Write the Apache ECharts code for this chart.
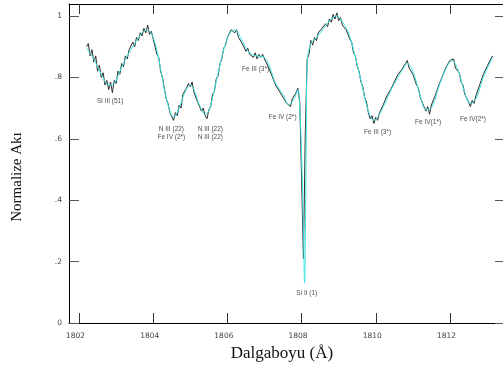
<!DOCTYPE html>
<html><head><meta charset="utf-8">
<script src="https://cdn.jsdelivr.net/npm/echarts@6/dist/echarts.min.js"></script>
<style>html,body{margin:0;padding:0;background:#fff}#c{width:503px;height:367px}</style>
</head><body><div id="c"></div>
<script>
// Observed spectrum, sampled every 0.05 Å from 1802.20 Å
const obsStart = 1802.20;
const obsStep = 0.05;
const obsFlux = [
  .90,.91,.87,.89,.85,.87,.82,.84,.80,.815,.775,.79,.76,.785,.75,.79,.78,.82,.81,.845,
  .835,.87,.86,.89,.885,.915,.90,.93,.92,.945,.935,.96,.945,.97,.94,.95,.925,.92,.875,.865,
  .82,.80,.765,.73,.715,.685,.69,.66,.685,.675,.71,.70,.745,.74,.765,.78,.77,.785,.75,.755,
  .72,.715,.69,.70,.675,.665,.695,.705,.745,.755,.795,.805,.845,.86,.895,.905,.93,.93,.955,.96,
  .945,.955,.93,.935,.91,.915,.885,.895,.875,.88,.865,.88,.86,.875,.865,.875,.86,.865,.835,.835,
  .805,.80,.775,.78,.755,.76,.735,.74,.715,.72,.705,.73,.725,.75,.765,.72,.47,.21,.62,.86,
  .875,.92,.905,.93,.92,.945,.94,.96,.955,.975,.965,.99,.98,1.005,.99,1.01,.985,.995,.97,.975,
  .955,.955,.925,.915,.88,.87,.835,.82,.785,.77,.735,.72,.685,.665,.675,.65,.67,.66,.685,.69,
  .71,.71,.74,.735,.76,.765,.785,.785,.81,.805,.825,.82,.845,.855,.83,.835,.81,.805,.775,.765,
  .735,.72,.705,.69,.705,.68,.71,.71,.74,.745,.775,.78,.805,.81,.835,.83,.855,.85,.86,.83,
  .835,.815,.785,.775,.745,.74,.72,.705,.725,.715,.74,.745,.775,.78,.81,.805,.835,.835,.86,.87
];
// Model (fit) spectrum
const modelWl = [1802.20,1802.40,1802.60,1802.80,1802.95,1803.10,1803.30,1803.50,1803.70,1803.85,
  1804.00,1804.15,1804.30,1804.45,1804.55,1804.70,1804.85,1805.00,1805.10,1805.25,1805.40,1805.50,
  1805.65,1805.80,1805.95,1806.10,1806.20,1806.35,1806.50,1806.65,1806.80,1807.00,1807.15,1807.30,
  1807.50,1807.65,1807.80,1807.90,1807.95,1808.00,1808.05,1808.08,1808.12,1808.15,1808.25,1808.40,
  1808.60,1808.80,1808.95,1809.10,1809.25,1809.40,1809.60,1809.80,1809.95,1810.10,1810.30,1810.50,
  1810.70,1810.85,1811.00,1811.20,1811.35,1811.50,1811.70,1811.90,1812.05,1812.20,1812.40,1812.55,
  1812.70,1812.90,1813.15];
const modelFlux = [0.895,0.86,0.81,0.775,0.78,0.82,0.87,0.91,0.945,0.955,
  0.93,0.86,0.76,0.69,0.67,0.70,0.75,0.775,0.76,0.71,0.68,0.69,
  0.76,0.84,0.91,0.95,0.955,0.93,0.895,0.875,0.87,0.865,0.83,0.78,
  0.745,0.71,0.73,0.76,0.70,0.55,0.30,0.13,0.50,0.85,0.91,0.93,
  0.96,0.99,1.00,0.98,0.95,0.89,0.79,0.69,0.66,0.68,0.73,0.78,
  0.82,0.845,0.82,0.74,0.695,0.70,0.77,0.83,0.855,0.83,0.75,0.715,
  0.73,0.80,0.865];
const xTicks = [1802,1804,1806,1808,1810,1812];
const yTicks = [0,0.2,0.4,0.6,0.8,1];
const yTickLabels = ['0','.2','.4','.6','.8','1'];
// Line identifications
const lineLabels = ['Si III (51)','N III (22)\nFe IV (2*)','N III (22)\nN III (22)','Fe III (3*)',
  'Fe IV (2*)','Si II (1)','Fe III (3*)','Fe IV(1*)','Fe IV(2*)'];
const lineLabelWl = [1802.84,1804.49,1805.54,1806.76,1807.49,1808.14,1810.05,1811.41,1812.62];
const lineLabelFlux = [0.723,0.619,0.619,0.827,0.671,0.098,0.622,0.655,0.664];

const obsData = obsFlux.map((f,i)=>[+(obsStart+i*obsStep).toFixed(2), f]);
const modelData = modelWl.map((w,i)=>[w, modelFlux[i]]);
const labelData = lineLabels.map((t,i)=>({name:t, value:[lineLabelWl[i], lineLabelFlux[i]]}));

const XMIN = 1801.73, XMAX = 1813.43, YMIN = 0, YMAX = 1.039;
const tickFont = {fontFamily:'DejaVu Sans', fontSize:7.5, color:'#444'};
const chart = echarts.init(document.getElementById('c'), null, {renderer:'canvas'});
chart.setOption({
  animation:false,
  backgroundColor:'#fff',
  grid:{left:69, right:0, top:4, bottom:44, containLabel:false},
  xAxis:[{
    type:'value', position:'bottom', min:XMIN, max:XMAX,
    name:'Dalgaboyu (Å)', nameLocation:'middle', nameGap:18,
    nameTextStyle:{fontFamily:'Liberation Serif', fontSize:17, color:'#111', padding:[0,8,0,0]},
    axisLine:{show:true, onZero:false, lineStyle:{color:'#000', width:1}},
    axisTick:{show:true, inside:true, length:10, customValues:xTicks, lineStyle:{color:'#333'}},
    axisLabel:Object.assign({show:true, margin:9, customValues:xTicks, padding:[0,7,0,0],
      formatter:v=>String(Math.round(v))}, tickFont),
    splitLine:{show:false}
  },{
    type:'value', position:'top', min:XMIN, max:XMAX,
    axisLine:{show:true, onZero:false, lineStyle:{color:'#000', width:1}},
    axisTick:{show:true, inside:true, length:10, customValues:xTicks, lineStyle:{color:'#333'}},
    axisLabel:{show:false}, splitLine:{show:false}
  }],
  yAxis:[{
    type:'value', position:'left', min:YMIN, max:YMAX,
    name:'Normalize Akı', nameLocation:'middle', nameGap:44, nameRotate:90,
    nameTextStyle:{fontFamily:'Liberation Serif', fontSize:15, color:'#111', padding:[0,27,0,0]},
    axisLine:{show:true, onZero:false, lineStyle:{color:'#000', width:1}},
    axisTick:{show:true, inside:true, length:10, customValues:yTicks, lineStyle:{color:'#555'}},
    axisLabel:Object.assign({show:true, margin:7, customValues:yTicks,
      formatter:v=>{const i=yTicks.findIndex(t=>Math.abs(t-v)<1e-6); return i>=0?yTickLabels[i]:'';}}, tickFont),
    splitLine:{show:false}
  },{
    type:'value', position:'right', min:YMIN, max:YMAX,
    axisLine:{show:false, onZero:false},
    axisTick:{show:true, inside:true, length:8, customValues:yTicks, lineStyle:{color:'#555'}},
    axisLabel:{show:false}, splitLine:{show:false}
  }],
  series:[{
    type:'line', name:'Gözlem', data:obsData, xAxisIndex:0, yAxisIndex:0,
    showSymbol:false, lineStyle:{color:'#2a2a2a', width:1}, z:2
  },{
    type:'line', name:'Model', data:modelData, xAxisIndex:1, yAxisIndex:1,
    showSymbol:false, smooth:0.35, lineStyle:{color:'#3ee6e6', width:1}, z:3
  },{
    type:'scatter', name:'Çizgiler', data:labelData, xAxisIndex:0, yAxisIndex:0,
    symbolSize:2, itemStyle:{color:'rgba(0,0,0,0)'}, z:4,
    label:{show:true, position:'inside', formatter:p=>p.name, fontFamily:'Liberation Sans',
      fontSize:6.5, lineHeight:8, color:'#222', align:'center', verticalAlign:'middle'}
  }]
});
</script>
</body></html>
